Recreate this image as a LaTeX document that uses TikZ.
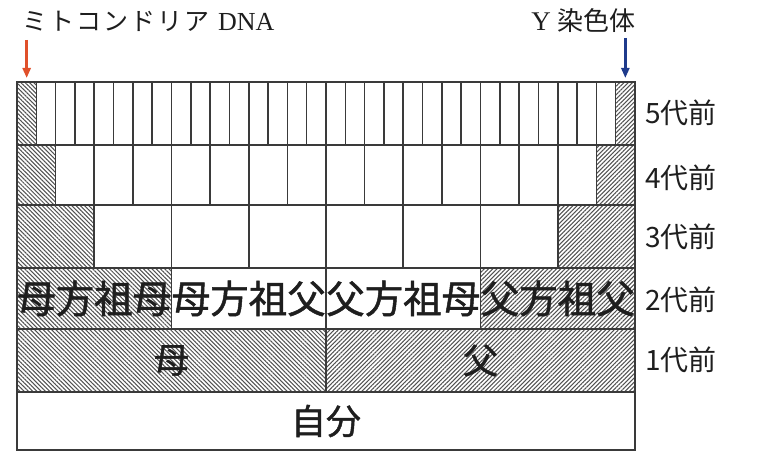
\documentclass[tikz,border=0pt]{standalone}
\usepackage{fontspec}
\setmainfont{Noto Sans CJK JP}
\newfontfamily\jp{Noto Sans CJK JP}
\newfontfamily\jpb[FakeBold=1.2]{Noto Sans CJK JP}
\newfontfamily\jpsp[LetterSpace=8]{Noto Sans CJK JP}
\newfontfamily\lser{Liberation Serif}
\usetikzlibrary{patterns.meta,arrows.meta}
\definecolor{bordc}{HTML}{3A3A3A}
\definecolor{redarr}{HTML}{E0502A}
\definecolor{bluearr}{HTML}{1F3B8C}
\definecolor{txtc}{HTML}{1E1E1E}
\tikzset{
  cell/.style={draw=bordc, line width=1.6pt, fill=white, inner sep=0pt, outer sep=0pt, anchor=north west},
  hatchm/.style={cell, pattern={Lines[angle=-45,distance=3pt,line width=1.05pt]}, pattern color=black!68},
  hatchf/.style={cell, pattern={Lines[angle=45,distance=3pt,line width=1.05pt]}, pattern color=black!68},
  genlabel/.style={anchor=west, inner sep=0pt, font=\jp\fontsize{28}{28}\selectfont, text=txtc},
  bigtxt/.style={inner sep=0pt, font=\jpb\fontsize{38.5}{38.5}\selectfont, text=txtc},
  midtxt/.style={inner sep=0pt, font=\jpb\fontsize{35}{35}\selectfont, text=txtc},
  toptxt/.style={inner sep=0pt, text=txtc},
  arr/.style={line width=2.4pt, -{Triangle[length=10pt,width=8pt]}}
}
\begin{document}
\begin{tikzpicture}[x=1pt,y=-1pt]
\useasboundingbox (0,0) rectangle (758,452);
% 5th generation
\foreach \i in {2,...,31}
  \node[cell, minimum width=19.3125pt, minimum height=63pt] (g5-\i) at ({17+(\i-1)*19.3125},82) {};
\node[hatchm, minimum width=19.3125pt, minimum height=63pt] (g5-1) at (17,82) {};
\node[hatchf, minimum width=19.3125pt, minimum height=63pt] (g5-32) at ({17+31*19.3125},82) {};
% 4th generation
\foreach \i in {2,...,15}
  \node[cell, minimum width=38.625pt, minimum height=60pt] (g4-\i) at ({17+(\i-1)*38.625},145) {};
\node[hatchm, minimum width=38.625pt, minimum height=60pt] (g4-1) at (17,145) {};
\node[hatchf, minimum width=38.625pt, minimum height=60pt] (g4-16) at ({17+15*38.625},145) {};
% 3rd generation
\foreach \i in {2,...,7}
  \node[cell, minimum width=77.25pt, minimum height=63pt] (g3-\i) at ({17+(\i-1)*77.25},205) {};
\node[hatchm, minimum width=77.25pt, minimum height=63pt] (g3-1) at (17,205) {};
\node[hatchf, minimum width=77.25pt, minimum height=63pt] (g3-8) at ({17+7*77.25},205) {};
% 2nd generation
\node[hatchm, minimum width=154.5pt, minimum height=61pt] (g2-1) at (17,268) {};
\node[cell, minimum width=154.5pt, minimum height=61pt] (g2-2) at (171.5,268) {};
\node[cell, minimum width=154.5pt, minimum height=61pt] (g2-3) at (326,268) {};
\node[hatchf, minimum width=154.5pt, minimum height=61pt] (g2-4) at (480.5,268) {};
\node[bigtxt] (t2-1) at (g2-1.center) {母方祖母};
\node[bigtxt] (t2-2) at (g2-2.center) {母方祖父};
\node[bigtxt] (t2-3) at (g2-3.center) {父方祖母};
\node[bigtxt] (t2-4) at (g2-4.center) {父方祖父};
% 1st generation
\node[hatchm, minimum width=309pt, minimum height=63pt] (g1-1) at (17,329) {};
\node[hatchf, minimum width=309pt, minimum height=63pt] (g1-2) at (326,329) {};
\node[midtxt] (t1-1) at (g1-1.center) {母};
\node[midtxt] (t1-2) at (g1-2.center) {父};
% self
\node[cell, minimum width=618pt, minimum height=58pt] (self) at (17,392) {};
\node[midtxt] (tself) at (self.center) {自分};
% generation labels
\node[genlabel] (l5) at (645,113) {5代前};
\node[genlabel] (l4) at (645,178) {4代前};
\node[genlabel] (l3) at (645,237) {3代前};
\node[genlabel] (l2) at (645,300) {2代前};
\node[genlabel] (l1) at (645,360) {1代前};
% top labels
\node[toptxt, anchor=west] (mito) at (22,21) {\jpsp\fontsize{25}{25}\selectfont ミトコンドリア\hspace{9pt}{\lser\fontsize{26}{26}\selectfont DNA}};
\node[toptxt, anchor=east] (ychr) at (636,21) {{\lser\fontsize{27}{27}\selectfont Y}\hspace{7pt}{\jp\fontsize{26}{26}\selectfont 染色体}};
\coordinate (mstart) at (g5-1.center |- 0,40);
\coordinate (ystart) at (g5-32.center |- 0,38);
\draw[arr, redarr] (mstart) -- ([yshift=4pt]g5-1.north);
\draw[arr, bluearr] (ystart) -- ([yshift=4pt]g5-32.north);
\end{tikzpicture}
\end{document}
